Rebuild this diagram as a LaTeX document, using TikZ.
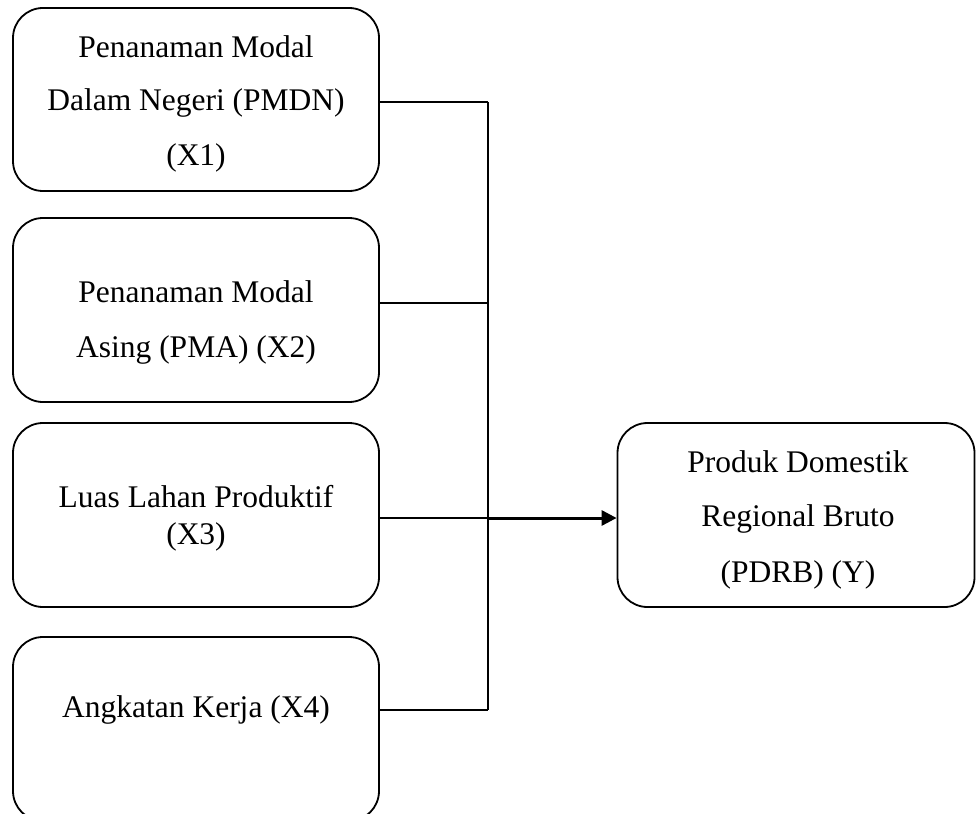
\documentclass[tikz,border=0pt]{standalone}
\usepackage{fontspec}
\setmainfont{Liberation Serif}
\usetikzlibrary{arrows.meta}
\begin{document}
\begin{tikzpicture}[x=1pt,y=-1pt,
  box/.style={draw,line width=1.8pt,rounded corners=30pt,minimum width=366pt,inner sep=0pt},
  txt/.style={font=\fontsize{31.5}{55}\selectfont,align=center,inner sep=0pt},
  conn/.style={line width=1.8pt},
  arr/.style={line width=3pt,-{Triangle[length=15pt,width=15pt]}}]
\useasboundingbox (0,0) rectangle (976,813);
% boxes
\node[box,minimum height=183pt] (b1) at (196,99.5) {};
\node[box,minimum height=184pt] (b2) at (196,310) {};
\node[box,minimum height=184pt] (b3) at (196,515) {};
\node[box,minimum height=184pt] (b4) at (196,729) {};
\node[box,minimum width=357pt,minimum height=184pt] (y) at (796,515) {};
% texts
\node[txt] (t1a) at (196,47) {Penanaman Modal};
\node[txt] (t1b) at (196,103) {Dalam Negeri (PMDN)};
\node[txt] (t1c) at (196,158) {(X1)};
\node[txt] (t2a) at (196,292) {Penanaman Modal};
\node[txt] (t2b) at (196,350) {Asing (PMA) (X2)};
\node[txt] (t3a) at (196,497) {Luas Lahan Produktif};
\node[txt] (t3b) at (196,537) {(X3)};
\node[txt] (t4) at (196,710) {Angkatan Kerja (X4)};
\node[txt] (ya) at (798,462) {Produk Domestik};
\node[txt] (yb) at (798,519) {Regional Bruto};
\node[txt] (yc) at (798,575) {(PDRB) (Y)};
% junctions
\coordinate (j1) at (488,102);
\coordinate (j2) at (488,303);
\coordinate (j3) at (488,518);
\coordinate (j4) at (488,710);
% connectors
\draw[conn] (b1.east |- j1) -- (j1);
\draw[conn] (b2.east |- j2) -- (j2);
\draw[conn] (b3.east |- j3) -- (j3);
\draw[conn] (b4.east |- j4) -- (j4);
\draw[conn] (j1) -- (j4);
\draw[arr] (j3) -- (y.west |- j3);
\end{tikzpicture}
\end{document}
